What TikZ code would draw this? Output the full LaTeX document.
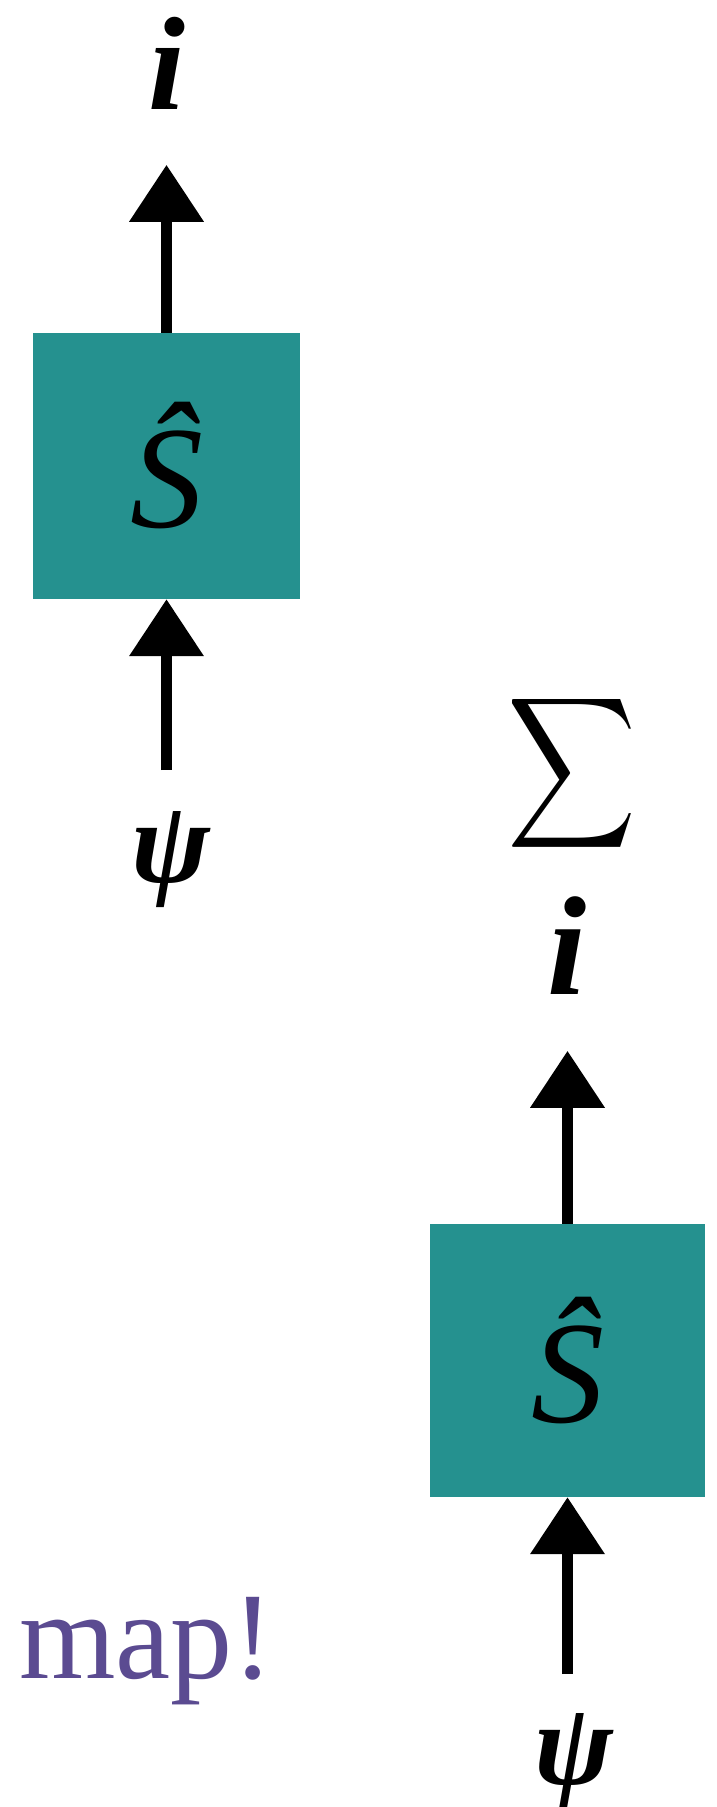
\RequirePackage{fix-cm}
\documentclass[tikz,border=0pt]{standalone}
\usepackage{fontspec}
\usepackage{amsmath}
\usetikzlibrary{arrows.meta,positioning}
\newfontfamily\labelfont{Liberation Serif}
\definecolor{boxteal}{RGB}{37,145,143}
\definecolor{mappurple}{RGB}{91,75,145}

\begin{document}
\begin{tikzpicture}[
    x=1pt, y=1pt,
    box/.style={fill=boxteal, draw=none, minimum width=267pt, minimum height=266pt, inner sep=0pt, font=\labelfont\itshape\fontsize{146}{160}\selectfont},
    lbl/.style={inner sep=0pt, outer sep=0pt, font=\labelfont\bfseries\itshape\fontsize{133}{150}\selectfont},
    psilbl/.style={inner sep=0pt, outer sep=0pt, font=\labelfont\bfseries\itshape\fontsize{118}{130}\selectfont},
    flow/.style={-{Triangle[width=72pt, length=57pt]}, line width=11pt}
]
\useasboundingbox (0,0) rectangle (717,-1807);
% left chain
\node[box] (sA) at (166.5,-466) {Ŝ};
\node[lbl, above=223pt of sA] (iA) {i};
\node[psilbl, below=212pt of sA, xshift=4pt] (psiA) {ψ};
\coordinate[above=168pt of sA] (tipA);
\coordinate[below=171pt of sA] (tailA);
\draw[flow] (sA.north) -- (tipA);
\draw[flow] (tailA) -- (sA.south);
% right chain
\node[box, minimum width=275pt, minimum height=273pt] (sB) at (567.5,-1360.5) {Ŝ};
\node[lbl, above=229pt of sB, font=\labelfont\bfseries\itshape\fontsize{141}{150}\selectfont] (iB) {i};
\node[inner sep=0pt] (sum) at (572.5,-773.5) {\resizebox*{129pt}{169pt}{$\displaystyle\sum$}};
\node[psilbl, below=216pt of sB, xshift=6pt] (psiB) {ψ};
\coordinate[above=173pt of sB] (tipB);
\coordinate[below=177pt of sB] (tailB);
\draw[flow] (sB.north) -- (tipB);
\draw[flow] (tailB) -- (sB.south);
% note
\node[anchor=base west, inner sep=0pt, text=mappurple, font=\labelfont\fontsize{124}{140}\selectfont] (note) at (19,-1678) {map!};
\end{tikzpicture}
\end{document}
